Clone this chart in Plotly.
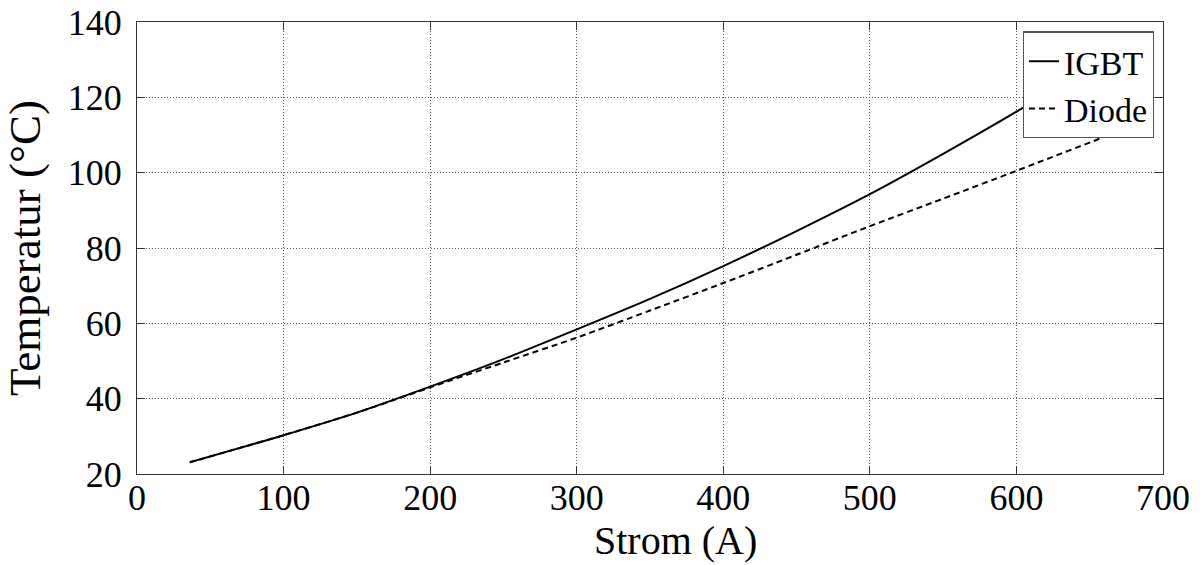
import plotly.graph_objects as go

strom_igbt = [36, 100, 150, 200, 250, 300, 350, 400, 450, 500, 550, 600, 660]
temp_igbt = [23.1, 30.3, 36.3, 43.2, 50.5, 58.4, 66.5, 75.2, 84.5, 94.3, 105.0, 116.2, 130.5]

strom_diode = [36, 100, 150, 200, 250, 300, 350, 400, 450, 500, 550, 600, 660]
temp_diode = [23.1, 30.3, 36.3, 43.0, 49.6, 56.2, 63.4, 70.7, 78.2, 85.8, 93.1, 100.5, 109.5]

x_ticks = [0, 100, 200, 300, 400, 500, 600, 700]
y_ticks = [20, 40, 60, 80, 100, 120, 140]

x_title = "Strom (A)"
y_title = "Temperatur (°C)"

FONT = "Liberation Serif"

fig = go.Figure()
fig.add_trace(go.Scatter(x=strom_igbt, y=temp_igbt, mode="lines", name="IGBT",
                         line=dict(color="black", width=2, shape="spline", smoothing=0.8)))
fig.add_trace(go.Scatter(x=strom_diode, y=temp_diode, mode="lines", name="Diode",
                         line=dict(color="black", width=2, dash="6px,4px", shape="spline", smoothing=0.8)))

axis_common = dict(
    showline=True, linecolor="#333", linewidth=1.2, mirror="ticks",
    ticks="inside", ticklen=8, tickcolor="#333",
    showgrid=True, gridcolor="#555", griddash="1px,2px", gridwidth=1,
    zeroline=False, automargin=False, ticklabeloverflow="allow",
    tickfont=dict(family=FONT, size=36, color="black"),
)

fig.update_xaxes(range=[0, 700], tickvals=x_ticks, ticktext=[str(v) for v in x_ticks],
                 ticklabelstandoff=-8, **axis_common)
fig.update_yaxes(range=[20, 140], tickvals=y_ticks, ticktext=[str(v) for v in y_ticks],
                 ticklabelstandoff=7,
                 title=dict(text=y_title, font=dict(family=FONT, size=45, color="black"), standoff=17),
                 **axis_common)

fig.add_annotation(text=x_title, xref="paper", yref="paper", x=0.525, y=-0.148,
                   xanchor="center", yanchor="middle", showarrow=False,
                   font=dict(family=FONT, size=40, color="black"))

fig.update_layout(
    width=1200, height=565,
    margin=dict(l=137, r=37, t=22, b=91, autoexpand=False),
    plot_bgcolor="white", paper_bgcolor="white",
    font=dict(family=FONT, size=36, color="black"),
    showlegend=True,
    legend=dict(x=0.991, y=0.979, xanchor="right", yanchor="top",
                bgcolor="white", bordercolor="#555", borderwidth=1.2,
                font=dict(family=FONT, size=34, color="black"),
                tracegroupgap=0, itemwidth=30),
)

fig.write_html("out.html", config={"displayModeBar": False},
               post_script="document.body.style.margin='0';document.body.style.overflow='hidden';")
